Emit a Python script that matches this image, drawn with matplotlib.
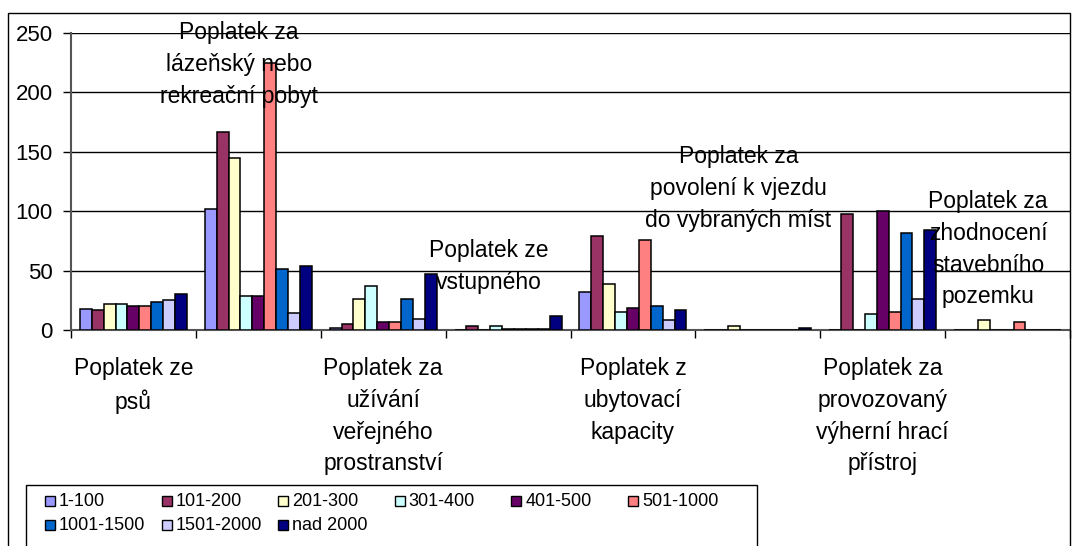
import numpy as np
import matplotlib
matplotlib.use("Agg")
import matplotlib.pyplot as plt
from matplotlib.patches import Rectangle

plt.rcParams['font.family'] = ['Liberation Sans', 'DejaVu Sans']

# kategorie poplatků
categories = [
    "Poplatek ze\npsů",
    "Poplatek za\nlázeňský nebo\nrekreační pobyt",
    "Poplatek za\nužívání\nveřejného\nprostranství",
    "Poplatek ze\nvstupného",
    "Poplatek z\nubytovací\nkapacity",
    "Poplatek za\npovolení k vjezdu\ndo vybraných míst",
    "Poplatek za\nprovozovaný\nvýherní hrací\npřístroj",
    "Poplatek za\nzhodnocení\nstavebního\npozemku",
]

# velikostní skupiny obcí
groups = ["1-100", "101-200", "201-300", "301-400", "401-500",
          "501-1000", "1001-1500", "1501-2000", "nad 2000"]

v_1_100 = [18, 102, 2, 0, 32, 0, 0, 0]
v_101_200 = [16.5, 167, 5, 3, 79, 0, 97.5, 0]
v_201_300 = [22, 145, 26.5, 0, 38.5, 3.5, 0, 8]
v_301_400 = [22, 29, 37, 3, 15, 0, 13.5, 0]
v_401_500 = [20, 29, 6.5, 1, 18.5, 0, 100.5, 0]
v_501_1000 = [20, 225, 6.5, 1, 76, 0, 15, 6.5]
v_1001_1500 = [23.5, 51.5, 26.5, 1, 20, 0, 82, 0]
v_1501_2000 = [25, 14.5, 9.5, 1, 8.5, 0, 26.5, 0]
v_nad_2000 = [30.5, 53.5, 47, 12, 17, 1.5, 84, 0]

values = [v_1_100, v_101_200, v_201_300, v_301_400, v_401_500,
          v_501_1000, v_1001_1500, v_1501_2000, v_nad_2000]

colors = ["#9999FF", "#993366", "#FFFFCC", "#CCFFFF", "#660066",
          "#FF8080", "#0066CC", "#CCCCFF", "#000080"]

W, H = 1076, 546
fig = plt.figure(figsize=(W / 100, H / 100), dpi=100)
ax = fig.add_axes([71 / W, (H - 330) / H, 999 / W, 297 / H])

x = np.arange(len(categories))
n = len(groups)
w = 1 / (n + 1.5)
for i, (g, vals, c) in enumerate(zip(groups, values, colors)):
    ax.bar(x - 0.5 + 0.75 * w + i * w, vals, width=w, align='edge',
           color=c, edgecolor='black', linewidth=1.1, label=g, zorder=3)

ax.set_xlim(-0.5, len(categories) - 0.5)
ax.set_ylim(0, 250)
ax.set_yticks(np.arange(0, 251, 50))
ax.set_xticks(np.arange(-0.5, len(categories), 1))
ax.set_xticklabels([])
ax.tick_params(axis='x', length=6, width=1, direction='out')
ax.tick_params(axis='y', length=6, width=1, direction='out', labelsize=16, pad=7)
ax.grid(axis='y', color='black', linewidth=1, zorder=0)
for s in ['top', 'right']:
    ax.spines[s].set_visible(False)
ax.spines['left'].set_color('#555555')
ax.spines['bottom'].set_color('#555555')
ax.spines['left'].set_linewidth(1.5)
ax.spines['bottom'].set_linewidth(1.5)

# popisky kategorií - liché dole, sudé nahoře v grafu
top_y = [None, 223.5, None, 53.5, None, 119, None, 68]
for i, lab in enumerate(categories):
    if i % 2 == 0:
        ax.text(i, -23, lab, ha='center', va='top', fontsize=16.5,
                linespacing=1.48, clip_on=False, zorder=5)
    else:
        ax.text(i - 0.155, top_y[i], lab, ha='center', va='center',
                fontsize=16.5, linespacing=1.48, clip_on=False, zorder=5)

# rámeček grafu
fig.patches.append(Rectangle((8 / W, -0.1), (1070 - 8) / W, 1.1 - 13 / H,
                             transform=fig.transFigure, fill=False,
                             edgecolor='black', linewidth=1))

# legenda - rámeček a položky po řádcích (6 sloupců)
fig.patches.append(Rectangle((26 / W, -0.1), (757 - 26) / W, 0.1 + (H - 485) / H,
                             transform=fig.transFigure, fill=False,
                             edgecolor='black', linewidth=1))
for k, (g, c) in enumerate(zip(groups, colors)):
    row, col = divmod(k, 6)
    px = 45 + col * 116.6
    py = 501 + row * 24
    fig.patches.append(Rectangle((px / W, 1 - (py + 5) / H), 10 / W, 10 / H,
                                 transform=fig.transFigure, facecolor=c,
                                 edgecolor='black', linewidth=1))
    fig.text((px + 14) / W, 1 - py / H, g, ha='left', va='center', fontsize=13)

fig.savefig("out.png", dpi=100)
